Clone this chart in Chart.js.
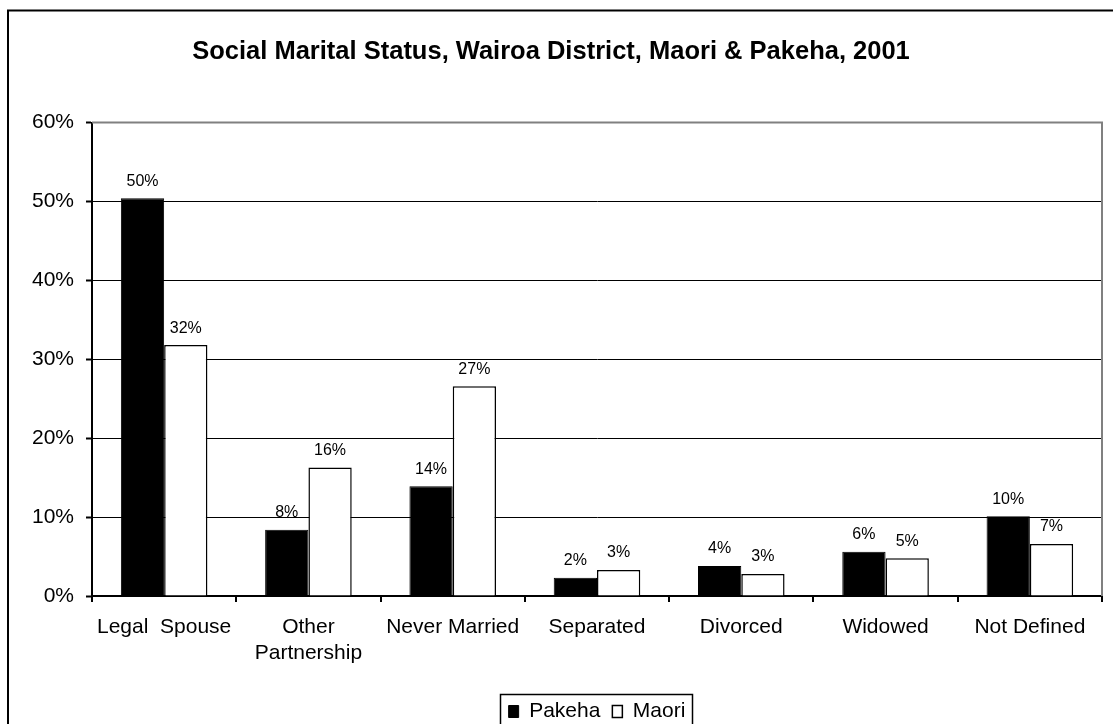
<!DOCTYPE html>
<html>
<head>
<meta charset="utf-8">
<script src="https://cdn.jsdelivr.net/npm/chart.js"></script>
<style>
  html, body { margin: 0; padding: 0; background: #fff; }
  #wrap { width: 1113px; height: 724px; }
</style>
</head>
<body>
<div id="wrap"><canvas id="myChart" width="1113" height="724"></canvas></div>
<script>
// marital status categories and percentages
const categories = ['Legal  Spouse', ['Other', 'Partnership'], 'Never Married', 'Separated', 'Divorced', 'Widowed', 'Not Defined'];
const pakeha = [50.4, 8.4, 13.9, 2.3, 3.8, 5.6, 10.1];
const maori = [31.8, 16.3, 26.6, 3.3, 2.8, 4.8, 6.6];
const yTicks = [0, 10, 20, 30, 40, 50, 60];

const FONT = "'Liberation Sans', Arial, sans-serif";
Chart.defaults.font.family = FONT;
Chart.defaults.color = '#000';

const LEGEND_PAD = 12;
const LEGEND_FONT = 21;

// frame, plot border, value labels, legend box
const extras = {
  id: 'extras',
  afterLayout(chart) {
    const lg = chart.legend;
    lg.left += 46; lg.right += 46;
    lg.top += 8; lg.bottom += 8;
  },
  beforeDraw(chart) {
    const ctx = chart.ctx;
    ctx.save();
    ctx.fillStyle = '#fff';
    ctx.fillRect(0, 0, chart.width, chart.height);
    ctx.restore();
  },
  afterDatasetsDraw(chart) {
    const ctx = chart.ctx;
    const a = chart.chartArea;
    ctx.save();
    // gray top/right edges of the plot
    ctx.strokeStyle = '#808080';
    ctx.lineWidth = 2;
    ctx.beginPath();
    ctx.moveTo(a.left, a.top);
    ctx.lineTo(a.right, a.top);
    ctx.lineTo(a.right, a.bottom);
    ctx.stroke();

    ctx.fillStyle = '#000';
    ctx.font = '16px ' + FONT;
    ctx.textAlign = 'center';
    ctx.textBaseline = 'middle';
    chart.data.datasets.forEach((ds, i) => {
      chart.getDatasetMeta(i).data.forEach((bar, j) => {
        ctx.fillText(Math.round(ds.data[j]) + '%', bar.x, bar.y - 17);
      });
    });
    ctx.restore();
  },
  afterDraw(chart) {
    const ctx = chart.ctx;
    ctx.save();
    ctx.strokeStyle = '#000';
    ctx.lineWidth = 2;
    // outer frame
    ctx.beginPath();
    ctx.moveTo(8, chart.height + 5);
    ctx.lineTo(8, 10.5);
    ctx.lineTo(chart.width + 5, 10.5);
    ctx.stroke();
    // box round the legend
    const lg = chart.legend;
    const lw = lg.lineWidths ? lg.lineWidths[0] : 0;
    if (lw) {
      const start = (lg.left + LEGEND_PAD + lg.right - lw) / 2;
      const x0 = start - 9;
      const x1 = start + lw - LEGEND_PAD + 6;
      const y0 = lg.top + LEGEND_PAD + LEGEND_FONT / 2 - 18;
      ctx.lineWidth = 1.5;
      ctx.strokeRect(Math.round(x0) + 0.5, Math.round(y0) + 0.5, Math.round(x1 - x0), 60);
    }
    ctx.restore();
  }
};

new Chart(document.getElementById('myChart').getContext('2d'), {
  type: 'bar',
  data: {
    labels: categories,
    datasets: [
      { label: 'Pakeha', data: pakeha, backgroundColor: '#000', borderColor: '#000', borderWidth: 1 },
      { label: 'Maori', data: maori, backgroundColor: '#fff', borderColor: '#000', borderWidth: 1.5 }
    ]
  },
  options: {
    responsive: false,
    animation: false,
    categoryPercentage: 0.6,
    barPercentage: 1,
    layout: { padding: { left: 0, right: 11, top: 0, bottom: 0 } },
    plugins: {
      title: {
        display: true,
        text: 'Social Marital Status, Wairoa District, Maori & Pakeha, 2001',
        font: { size: 25.5, weight: 'bold' },
        padding: { top: 37, bottom: 55 },
        color: '#000'
      },
      legend: {
        position: 'bottom',
        labels: { boxWidth: 10, boxHeight: 12, padding: LEGEND_PAD, font: { size: LEGEND_FONT }, color: '#000' }
      },
      tooltip: { enabled: false }
    },
    scales: {
      x: {
        afterFit(s) { s.height = 85; },
        grid: { drawOnChartArea: false, tickLength: 6, color: '#000', lineWidth: 2 },
        border: { color: '#000', width: 2 },
        ticks: { font: { size: 21, lineHeight: 1.25 }, padding: 12, maxRotation: 0, autoSkip: false }
      },
      y: {
        min: 0,
        max: 60,
        afterFit(s) { s.width = 92; },
        afterBuildTicks(s) { s.ticks = yTicks.map(v => ({ value: v })); },
        grid: {
          color: c => (c.tick && c.tick.value === 60) ? 'rgba(0,0,0,0)' : '#000',
          lineWidth: 1,
          tickColor: '#000',
          tickWidth: 2,
          tickLength: 6
        },
        border: { color: '#000', width: 2 },
        ticks: { font: { size: 21 }, padding: 12, callback: v => v + '%' }
      }
    }
  },
  plugins: [extras]
});
</script>
</body>
</html>
